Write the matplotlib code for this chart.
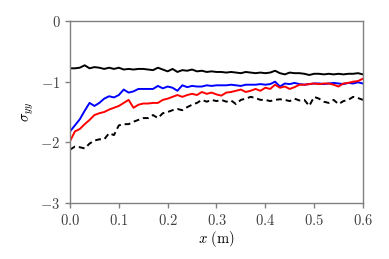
import numpy as np
import matplotlib
matplotlib.use("Agg")
import matplotlib.pyplot as plt

plt.rcParams['mathtext.fontset'] = 'cm'
plt.rcParams['font.family'] = 'serif'
plt.rcParams['font.serif'] = ['cmr10', 'DejaVu Serif']
plt.rcParams['axes.unicode_minus'] = False

x = np.round(np.arange(61) * 0.01, 2)

black_solid = [-0.78,-0.78,-0.77,-0.73,-0.78,-0.76,-0.77,-0.79,-0.77,-0.79,-0.77,-0.80,-0.79,-0.80,-0.79,-0.79,-0.80,-0.81,-0.77,-0.80,-0.83,-0.79,-0.84,-0.81,-0.82,-0.80,-0.83,-0.82,-0.84,-0.83,-0.84,-0.84,-0.85,-0.84,-0.85,-0.86,-0.84,-0.85,-0.86,-0.85,-0.86,-0.85,-0.82,-0.86,-0.88,-0.85,-0.86,-0.86,-0.87,-0.89,-0.87,-0.87,-0.88,-0.87,-0.88,-0.87,-0.88,-0.87,-0.87,-0.86,-0.88]

blue = [-1.82,-1.72,-1.62,-1.48,-1.35,-1.40,-1.35,-1.28,-1.24,-1.26,-1.22,-1.13,-1.18,-1.16,-1.12,-1.12,-1.12,-1.12,-1.07,-1.11,-1.08,-1.10,-1.15,-1.06,-1.09,-1.07,-1.08,-1.08,-1.06,-1.07,-1.06,-1.06,-1.06,-1.05,-1.06,-1.07,-1.05,-1.05,-1.05,-1.04,-1.05,-1.04,-1.00,-1.08,-1.03,-1.04,-1.02,-1.04,-1.05,-1.04,-1.03,-1.03,-1.04,-1.03,-1.02,-1.03,-1.04,-1.02,-1.03,-1.01,-1.03]

red = [-1.98,-1.82,-1.78,-1.70,-1.63,-1.55,-1.52,-1.50,-1.46,-1.43,-1.40,-1.35,-1.30,-1.43,-1.38,-1.36,-1.36,-1.35,-1.35,-1.30,-1.28,-1.25,-1.22,-1.25,-1.22,-1.20,-1.22,-1.17,-1.20,-1.18,-1.21,-1.23,-1.18,-1.17,-1.15,-1.13,-1.17,-1.15,-1.12,-1.15,-1.10,-1.12,-1.05,-1.10,-1.08,-1.12,-1.09,-1.05,-1.05,-1.04,-1.03,-1.04,-1.03,-1.03,-1.05,-1.08,-1.03,-1.02,-1.00,-0.99,-0.95]

black_dashed = [-2.12,-2.07,-2.08,-2.10,-2.02,-1.97,-1.95,-1.95,-1.85,-1.88,-1.72,-1.70,-1.70,-1.66,-1.63,-1.60,-1.60,-1.55,-1.60,-1.52,-1.50,-1.47,-1.45,-1.47,-1.42,-1.38,-1.35,-1.30,-1.33,-1.30,-1.32,-1.30,-1.33,-1.31,-1.37,-1.30,-1.28,-1.25,-1.27,-1.30,-1.30,-1.32,-1.30,-1.29,-1.30,-1.32,-1.28,-1.31,-1.30,-1.40,-1.25,-1.28,-1.33,-1.35,-1.30,-1.37,-1.32,-1.30,-1.25,-1.27,-1.30]

xticks = [0.0, 0.1, 0.2, 0.3, 0.4, 0.5, 0.6]
xticklabels = ['$0.0$', '$0.1$', '$0.2$', '$0.3$', '$0.4$', '$0.5$', '$0.6$']
yticks = [0, -1, -2, -3]
yticklabels = ['$0$', '$-1$', '$-2$', '$-3$']

fig = plt.figure(figsize=(3.89, 2.59), dpi=100)
ax = fig.add_axes([0.18, 0.216, 0.753, 0.703])

lw = 1.4
ax.plot(x, black_solid, color='black', lw=lw)
ax.plot(x, blue, color='blue', lw=lw)
ax.plot(x, red, color='red', lw=lw)
ax.plot(x, black_dashed, color='black', lw=lw, ls=(0, (3, 2)))

ax.set_xlim(0, 0.6)
ax.set_ylim(-3, 0)
ax.set_xticks(xticks)
ax.set_xticklabels(xticklabels, fontsize=10.5)
ax.set_yticks(yticks)
ax.set_yticklabels(yticklabels, fontsize=10.5)
ax.set_xlabel(r'$x\ \mathrm{(m)}$', fontsize=10.5, labelpad=1)
ax.set_ylabel(r'$\sigma_{yy}$', fontsize=10.5, labelpad=3)
for s in ax.spines.values():
    s.set_color('#808080')
    s.set_linewidth(1.0)
ax.tick_params(colors='#808080', labelcolor='#404040', length=3.5, width=1.0)

fig.savefig('out.png', dpi=100)
